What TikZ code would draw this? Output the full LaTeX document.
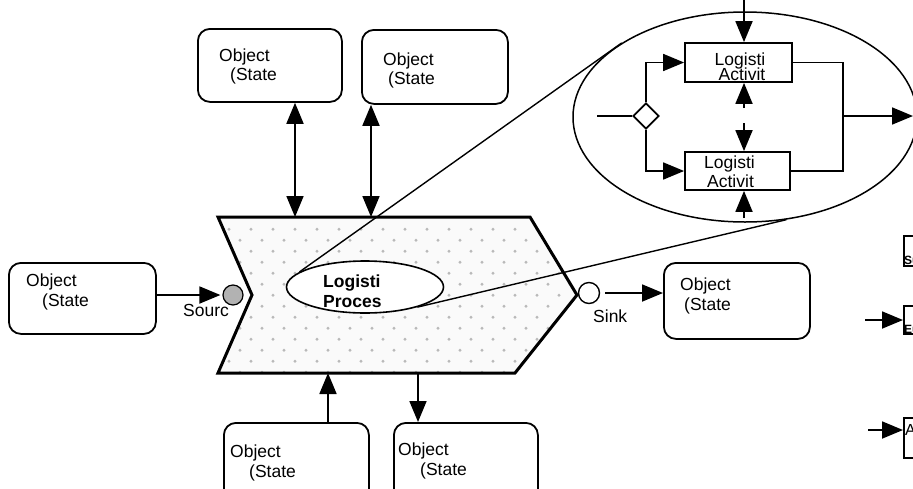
\documentclass[tikz,border=0pt]{standalone}
\usepackage{fontspec}
\setmainfont{Liberation Sans}
\usetikzlibrary{shapes.geometric,arrows.meta}

\begin{document}
\begin{tikzpicture}[x=1pt,y=-1pt,>={Triangle[length=21pt,width=17pt]},
    font=\fontsize{17.5}{19}\selectfont,
    line/.style={line width=1.8pt},
    objbox/.style={draw,line width=1.8pt,rounded corners=12pt,anchor=north west,inner sep=0pt},
    actbox/.style={draw,line width=1.8pt,fill=white,inner sep=0pt},
    txt/.style={inner sep=0pt,anchor=base west},
    btxt/.style={txt,font=\fontsize{17.5}{19}\selectfont\bfseries},
    ctxt/.style={inner sep=0pt,anchor=base},
    cut/.style={draw,line width=1.5pt,anchor=north west,inner sep=0pt,minimum width=30pt},
    ]
    \useasboundingbox (0,0) rectangle (913,488);
    \clip (0,0) rectangle (913,488);

    % process chevron
    \coordinate (ctl) at (218,217);
    \coordinate (ctr) at (530,217);
    \coordinate (ctip) at (577,295);
    \coordinate (cbr) at (515,373);
    \coordinate (cbl) at (218,373);
    \coordinate (cnotch) at (252,295);
    \fill[gray!4] (ctl) -- (ctr) -- (ctip) -- (cbr) -- (cbl) -- (cnotch) -- cycle;
    \begin{scope}
        \clip (ctl) -- (ctr) -- (ctip) -- (cbr) -- (cbl) -- (cnotch) -- cycle;
        \foreach \j in {0,...,13}
            \foreach \i in {0,...,17}
                \fill[gray!55] ({207+22*\i+11*mod(\j,2)},{229.3+11*\j}) circle (1.6pt);
    \end{scope}
    \draw[line width=3pt] (ctl) -- (ctr) -- (ctip) -- (cbr) -- (cbl) -- (cnotch) -- cycle;

    % object boxes
    \node[objbox,minimum width=144pt,minimum height=73pt] (oa) at (197,28) {};
    \node[txt] (oa1) at (219,61) {Object};
    \node[txt] (oa2) at (230,80) {(State};
    \node[objbox,minimum width=146pt,minimum height=74pt] (ob) at (361,29) {};
    \node[txt] (ob1) at (383,65) {Object};
    \node[txt] (ob2) at (388,84) {(State};
    \node[objbox,minimum width=147pt,minimum height=71pt] (oc) at (8,262) {};
    \node[txt] (oc1) at (26,286) {Object};
    \node[txt] (oc2) at (42,306) {(State};
    \node[objbox,minimum width=146pt,minimum height=76pt] (od) at (663,262) {};
    \node[txt] (od1) at (680,290) {Object};
    \node[txt] (od2) at (684,310) {(State};
    \node[objbox,minimum width=145pt,minimum height=80pt] (oe) at (223,422) {};
    \node[txt] (oe1) at (230,457) {Object};
    \node[txt] (oe2) at (249,477) {(State};
    \node[objbox,minimum width=144pt,minimum height=80pt] (of) at (393,422) {};
    \node[txt] (of1) at (398,455) {Object};
    \node[txt] (of2) at (420,475) {(State};

    % source and sink
    \node[circle,draw,line width=1.2pt,fill=gray!60,minimum size=20pt,inner sep=0pt] (src) at (233,295) {};
    \node[txt] (srct) at (183,316) {Sourc};
    \node[circle,draw,line width=1.4pt,fill=white,minimum size=21pt,inner sep=0pt] (snk) at (589,293) {};
    \node[txt] (snkt) at (593,322) {Sink};

    % connectors to the chevron
    \coordinate (ina) at (295,217);
    \coordinate (inb) at (371,217);
    \coordinate (ine) at (328,373);
    \coordinate (outf) at (418,373);
    \draw[<->,line] (oa.south -| ina) -- (ina);
    \draw[<->,line] (ob.south -| inb) -- (inb);
    \draw[->,line] (oe.north -| ine) -- (ine);
    \draw[->,line] (outf) -- (outf |- of.north);
    \draw[->,line,shorten >=2pt] (oc.east |- src.west) -- (src.west);
    \draw[->,line,shorten <=5pt] (snk.east) -- (snk.east -| od.west);

    % zoomed view
    \node[draw,ellipse,line width=1.5pt,minimum width=344pt,minimum height=210pt,inner sep=0pt] (zoom) at (745,117) {};
    \node[draw,ellipse,line width=1.6pt,fill=white,minimum width=157pt,minimum height=52pt,inner sep=0pt] (proc) at (365,287) {};
    \node[btxt] (proc1) at (323,287) {Logisti};
    \node[btxt] (proc2) at (323,307) {Proces};
    \draw[line width=1.4pt] (proc.167) -- (zoom.149);
    \draw[line width=1.4pt] (proc.-21) -- (zoom.-68);

    % activities
    \node[actbox,minimum width=107pt,minimum height=39pt] (act1) at (738.5,62.5) {};
    \node[ctxt] (act1a) at (740,65) {Logisti};
    \node[ctxt] (act1b) at (742,80) {Activit};
    \node[actbox,minimum width=105pt,minimum height=38pt] (act2) at (737.5,171) {};
    \node[txt] (act2a) at (704,168) {Logisti};
    \node[txt] (act2b) at (707,187) {Activit};
    \node[diamond,draw,line width=1.8pt,fill=white,minimum width=26pt,minimum height=26pt,inner sep=0pt] (dia) at (646,116) {};
    \coordinate (gin) at (597,116);
    \coordinate (mrg) at (843,116);
    \coordinate (gout) at (913,116);
    \draw[line] (gin) -- (dia.west);
    \draw[->,line] (dia.north) |- (act1.west);
    \draw[->,line] (dia.south) |- (act2.west);
    \draw[line] (act1.east) -| (mrg |- act2.east) -- (act2.east);
    \draw[->,line] (mrg) -- (gout);
    \coordinate (r0) at (744,0);
    \coordinate (r1) at (744,108);
    \coordinate (r2) at (744,123);
    \coordinate (r3) at (744,218);
    \draw[->,line] (r0) -- (r0 |- act1.north);
    \draw[->,line] (r1) -- (r1 |- act1.south);
    \draw[->,line] (r2) -- (r2 |- act2.north);
    \draw[->,line] (r3) -- (r3 |- act2.south);

    % cut-off items at the right edge
    \node[cut,minimum height=30pt] (su) at (903,235) {};
    \node[txt,font=\fontsize{12}{12}\selectfont\bfseries] (sut) at (904,264) {Su};
    \node[cut,minimum height=28pt] (eu) at (903,305) {};
    \node[txt,font=\fontsize{12}{12}\selectfont\bfseries] (eut) at (904,333) {Eu};
    \node[cut,minimum height=40pt] (fa) at (903,417) {};
    \node[txt,font=\fontsize{16}{16}\selectfont] (fat) at (905,435) {A};
    \coordinate (eu0) at (865,320);
    \coordinate (fa0) at (868,430);
    \draw[->,line] (eu0) -- (eu0 -| eu.west);
    \draw[->,line] (fa0) -- (fa0 -| fa.west);
\end{tikzpicture}
\end{document}
